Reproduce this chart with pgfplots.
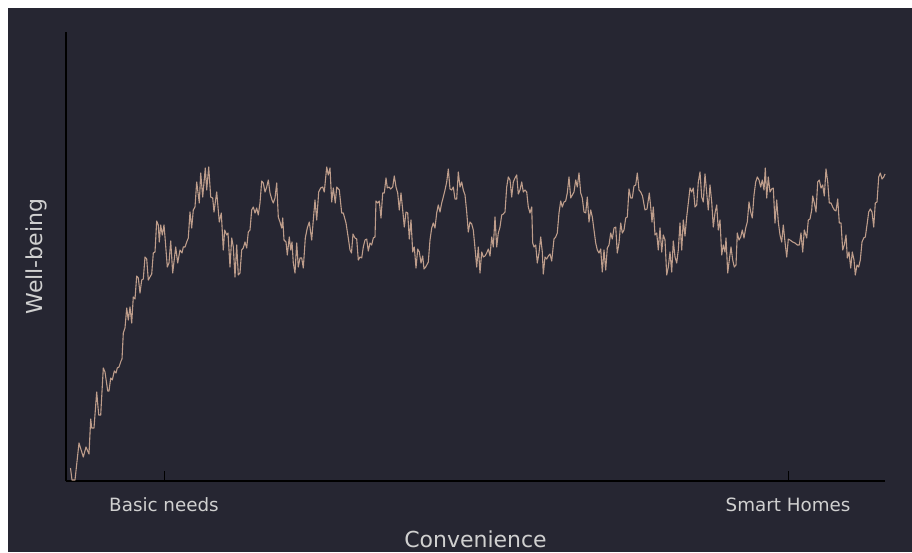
\documentclass[border=0pt]{standalone}
\usepackage{pgfplots}
\pgfplotsset{compat=1.18}
\usepackage{pgfplotstable}
\usepackage{fontspec}
\setmainfont{DejaVu Sans}
\definecolor{bg}{HTML}{262632}
\definecolor{ln}{HTML}{BE9D8B}
\definecolor{txt}{HTML}{D0D0D0}
% x = horizontal position, py = vertical pixel position (top-down)
\pgfplotstableread{
x py
70.5 468
72 480
75 480
79 443
83.3 457
86 447
89 454
90.7 419
91.7 428
94 428
96.7 392
98.7 415
100.7 415
103.3 368
105 372
107.7 391
109 391
110.7 378
112.3 380
114.3 371
116 373
117.3 368
119 367
121 361
122 359
123.3 333
125 328
126.7 308
128.3 320
130 307
131.7 323
133.3 297
135 299
136.7 276
138.3 278
140 293
141.7 280
143.3 279
145 257
146.7 259
148.3 280
150 277
151.7 274
153.3 253
155 252
156.7 221
158.3 225
159.3 242
160.7 225
162.3 235
164 225
165 237
167.3 267
169 263
170.7 241
172.7 273
175.7 247
177.7 263
180 250
182 253
183.3 247
185 247
186.7 242
188.3 238
190 212
191.7 228
193.3 210
195 207
196.7 182
199.3 203
200.7 173
202.7 197
205.3 168
206.7 190
208.7 167
210.7 197
212.7 198
214 212
216.7 192
219.3 222
221.3 213
223.3 250
224.7 230
226.7 235
228 233
230 267
231.7 238
233.3 247
235 277
236.7 245
238.3 275
240 273
241.7 250
243.3 248
245 242
246.7 248
248.3 232
250 230
251.7 210
253.3 207
255 213
256.7 208
258.3 215
260 203
261.7 181
263.3 183
265 192
266.7 187
268.3 180
270 193
272 200
273.3 203
275 198
276.7 183
278.3 217
280 222
281.7 228
282.7 218
284 240
286 242
287.3 255
289.3 237
290.7 250
292 242
293.3 263
295 273
296.7 243
298.3 267
300 258
301.7 258
303.3 268
305.3 238
307.3 228
309.3 222
311.7 240
313.3 220
315 200
316.7 220
318.7 192
320.7 188
322.7 187
324.3 192
326.7 167
328.3 175
330 168
331.7 202
333.3 188
335.3 203
336.7 187
339.3 190
341.7 213
343.3 213
346 223
348.3 238
350 250
351.5 253
353 234
355 238
356.7 239
358.3 260
360 257
361.7 258
363.3 247
365 240
366.7 239
368.3 251
370 243
371.7 245
373.3 238
375 237
376 201
377.7 203
379.3 201
381 218
382.7 193
384.3 193
386 178
387.3 188
389 187
390.7 189
392.7 187
394.3 176
396 187
397.7 193
399.3 210
401 193
402.7 210
404.3 227
406 212
407.7 213
409.3 239
411 220
412.7 252
414.3 247
416 268
417.7 249
419.3 252
421 263
422.7 256
424 269
425.7 267
428.3 262
430 240
431.7 228
433.3 223
435 228
436.7 213
438.3 205
440 212
441.7 203
443.3 197
445 190
446.7 182
448.3 169
450 189
451.7 190
453.3 187
455 199
456.7 199
458.3 172
460 187
461.7 182
463.3 190
465 195
466.7 212
468.3 232
470 222
471.7 224
473.3 230
475 248
476.7 267
478.3 247
480 273
481.7 252
483.3 257
485 256
486.7 253
488.3 249
490 256
491.7 237
493.3 247
495 217
496.7 247
498.3 233
500 227
501.7 215
503.3 214
505 212
506.7 187
508.3 177
510 180
511.7 197
513.3 182
515 178
516.7 175
518.3 194
520 190
521.7 182
523.3 192
525 190
526.7 192
528.3 207
530 213
531.7 207
532.7 243
534 247
535.7 245
537.3 263
539 253
540.7 237
542.3 252
543.3 274
545 257
546.7 259
548.3 256
550 254
551.7 261
554 239
555.7 237
557.3 233
559 213
560.7 201
562.3 207
564 202
565.7 201
567.3 193
569 177
570.7 198
572.3 195
574 192
575.7 180
577.3 187
579 173
580.7 193
582.3 198
584 212
585.7 213
587.3 197
589 222
590.7 210
592.3 217
594 230
595.7 243
597.3 250
599 253
600.7 249
602.3 272
604 250
605.7 270
607.3 248
609 245
610.7 233
612.3 239
614 228
615.7 227
617.3 253
619 243
620.7 223
622.3 233
624 230
625.7 218
627.3 217
629 189
630.7 198
632.3 198
634 186
635.7 185
637.3 173
639 190
640.7 192
642.5 196
645 210
647 209
649.3 193
650.7 207
652 222
653.3 207
655 235
656.7 233
658.3 250
660 228
661.7 252
663.3 235
665 240
666.7 275
668.3 267
670 252
671.7 272
673.3 241
675 257
676.7 263
678.3 250
680 223
681.7 250
683.3 220
685 236
686.7 217
688.3 203
690 188
691.7 192
693.3 188
695 207
696.7 205
698.3 182
700 172
701.7 197
703.3 202
705 174
706.7 193
708.3 210
710 185
711.7 202
713.3 227
715 213
716.7 205
718.3 230
720 220
721.7 255
723.3 245
725 252
726 238
727.7 273
729.3 260
731 247
732.7 260
734.3 267
736 265
737.3 233
739 240
740.7 237
742.3 230
744 238
745.7 228
747.3 222
749 202
750.7 212
752.3 218
754 195
755.7 182
757.3 177
759 180
760.7 187
762.3 180
764 190
765.3 168
766.7 198
768.3 177
770 192
771.7 189
773.3 188
775 223
776.7 200
778.3 222
780 235
781.7 242
783.3 225
785 242
786.7 257
788.3 239
790 240
792.7 242
795 243
797.3 245
799.3 245
801 233
802.7 252
804.3 230
806.7 238
808.3 220
810 219
811.7 210
812.7 196
814.3 203
816 212
817.7 182
819.3 180
821 188
822.7 185
824.3 196
826 169
827.7 182
829.3 203
831 203
832.7 207
834.3 210
836 211
837.7 199
839.3 223
841 223
842.7 250
844.3 245
846 235
847.3 258
849 252
850.7 268
852.3 252
854 260
855.3 275
857 265
858.7 267
860.3 260
862 242
863.7 238
865.3 237
867 225
868.7 212
870.3 209
872 212
873.7 227
875.3 203
877 202
878.7 177
880.3 173
882 179
883.7 177
885 174
}\wellbeing
\begin{document}
\begin{tikzpicture}[x=1pt,y=1pt]
\fill[white] (0,0) rectangle (912,552);
\fill[bg] (8,0) rectangle (912,544);
\begin{axis}[
  at={(66pt,71pt)}, anchor=south west,
  width=819pt, height=449pt, scale only axis,
  xmin=66, xmax=885, ymin=0, ymax=449,
  axis lines*=left,
  axis line style={black, line width=1.5pt},
  xtick={164,788}, xticklabels={Basic needs, Smart Homes},
  ytick=\empty,
  tick align=inside, major tick length=10pt,
  tick style={black, line width=1pt},
  xticklabel style={anchor=base, yshift=-30pt, font=\fontsize{18.3}{20}\selectfont, text=txt},
  xlabel={Convenience}, ylabel={Well-being},
  label style={font=\fontsize{22}{24}\selectfont, text=txt},
  xlabel style={at={(axis description cs:0.5,-0.1492)}, anchor=base},
  ylabel style={at={(axis description cs:-0.0293,0.5)}, anchor=base},
  clip=false,
]
\addplot[ln, line width=1.1pt, line join=round] table[x=x, y expr=481-\thisrow{py}] {\wellbeing};
\end{axis}
\end{tikzpicture}
\end{document}
